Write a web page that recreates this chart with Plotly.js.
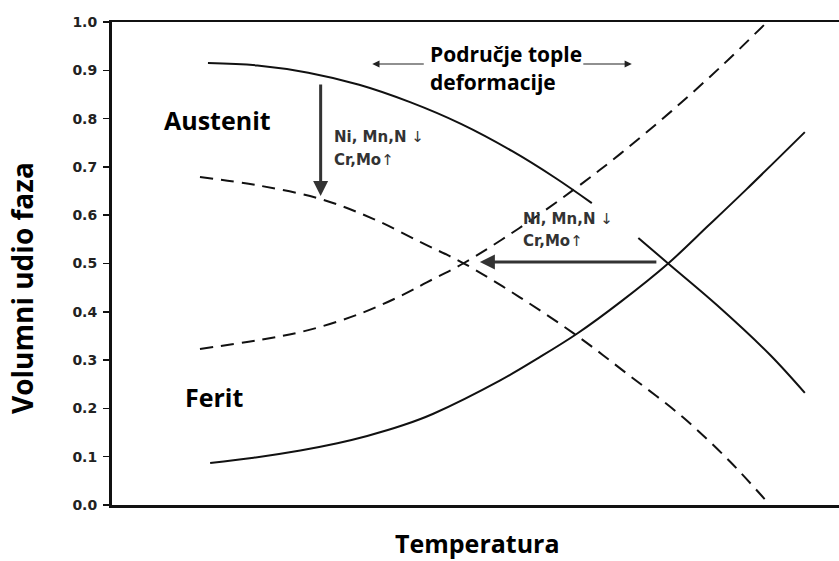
<!DOCTYPE html>
<html>
<head>
<meta charset="utf-8">
<script src="https://cdn.plot.ly/plotly-3.0.1.min.js"></script>
<style>html,body{margin:0;padding:0;background:#fff;}#chart{width:839px;height:561px;}</style>
</head>
<body>
<div id="chart"></div>
<script>
// Temperature (arbitrary units 0-100) and phase fraction values
const austenitX = [13.2, 20, 27, 34, 41, 48, 55, 61, 66];
const austenitY = [0.915, 0.910, 0.895, 0.870, 0.834, 0.789, 0.733, 0.677, 0.625];

const austenitShiftX = [12.1, 20, 28.6, 36, 43, 48.3, 56.1, 64, 71, 78.5, 85, 90.5];
const austenitShiftY = [0.679, 0.662, 0.634, 0.592, 0.540, 0.501, 0.430, 0.350, 0.270, 0.182, 0.090, 0.0];

const feritShiftX = [12.1, 20.4, 27, 34.1, 40, 43.3, 48.3, 56, 63.7, 70, 77, 84, 90.1];
const feritShiftY = [0.323, 0.342, 0.362, 0.396, 0.435, 0.461, 0.500, 0.573, 0.655, 0.728, 0.816, 0.911, 1.0];

const feritX = [13.5, 19.5, 25.9, 31, 35.1, 40, 44.2, 53.4, 58.5, 64, 70, 76.5, 82, 87.3, 95.3];
const feritY = [0.087, 0.098, 0.113, 0.128, 0.143, 0.165, 0.189, 0.258, 0.303, 0.355, 0.421, 0.500, 0.578, 0.654, 0.772];

const austenitHighX = [72.4, 76.5, 83.2, 90.5, 95.3];
const austenitHighY = [0.553, 0.500, 0.414, 0.311, 0.232];

const yTicks = [0.0, 0.1, 0.2, 0.3, 0.4, 0.5, 0.6, 0.7, 0.8, 0.9, 1.0];

const solid = {color: '#111', width: 2, shape: 'spline', smoothing: 1};
const dashed = {color: '#111', width: 2, shape: 'spline', smoothing: 1, dash: '13px,8px'};

const traces = [
  {x: austenitX, y: austenitY, mode: 'lines', line: solid},
  {x: austenitShiftX, y: austenitShiftY, mode: 'lines', line: dashed},
  {x: feritShiftX, y: feritShiftY, mode: 'lines', line: dashed},
  {x: feritX, y: feritY, mode: 'lines', line: solid},
  {x: austenitHighX, y: austenitHighY, mode: 'lines', line: solid}
];

const bigFont = {family: 'Open Sans, sans-serif', size: 25, color: '#000'};
const midFont = {family: 'Open Sans, sans-serif', size: 21, color: '#000'};
const smallFont = {family: 'DejaVu Sans, sans-serif', size: 15, color: '#333'};

const annotations = [
  {x: 6.9, y: 0.797, xref: 'x', yref: 'y', text: '<b>Austenit</b>', showarrow: false, xanchor: 'left', yanchor: 'middle', font: bigFont},
  {x: 9.8, y: 0.224, xref: 'x', yref: 'y', text: '<b>Ferit</b>', showarrow: false, xanchor: 'left', yanchor: 'middle', font: bigFont},
  {x: 43.5, y: 0.933, xref: 'x', yref: 'y', text: '<b>Područje tople</b>', showarrow: false, xanchor: 'left', yanchor: 'middle', font: midFont},
  {x: 43.5, y: 0.875, xref: 'x', yref: 'y', text: '<b>deformacije</b>', showarrow: false, xanchor: 'left', yanchor: 'middle', font: midFont},
  {x: 30.2, y: 0.761, xref: 'x', yref: 'y', text: '<b>Ni, Mn,N</b> ↓', showarrow: false, xanchor: 'left', yanchor: 'middle', font: smallFont},
  {x: 30.2, y: 0.714, xref: 'x', yref: 'y', text: '<b>Cr,Mo</b>↑', showarrow: false, xanchor: 'left', yanchor: 'middle', font: smallFont},
  {x: 56.3, y: 0.592, xref: 'x', yref: 'y', text: '<b>Ni, Mn,N</b> ↓', showarrow: false, xanchor: 'left', yanchor: 'middle', font: smallFont},
  {x: 56.3, y: 0.546, xref: 'x', yref: 'y', text: '<b>Cr,Mo</b>↑', showarrow: false, xanchor: 'left', yanchor: 'middle', font: smallFont},
  // arrows
  {x: 28.7, y: 0.640, xref: 'x', yref: 'y', ax: 0, ay: -113, text: '', showarrow: true, arrowhead: 2, arrowsize: 1, arrowwidth: 3, arrowcolor: '#333'},
  {x: 50.6, y: 0.503, xref: 'x', yref: 'y', ax: 178, ay: 0, text: '', showarrow: true, arrowhead: 2, arrowsize: 1, arrowwidth: 3, arrowcolor: '#333'},
  {x: 35.8, y: 0.913, xref: 'x', yref: 'y', ax: 53, ay: 0, text: '', showarrow: true, arrowhead: 2, arrowsize: 1.2, arrowwidth: 1.2, arrowcolor: '#222'},
  {x: 71.5, y: 0.913, xref: 'x', yref: 'y', ax: -50, ay: 0, text: '', showarrow: true, arrowhead: 2, arrowsize: 1.2, arrowwidth: 1.2, arrowcolor: '#222'},
  // axis titles
  {x: -0.124, y: 0.449, xref: 'paper', yref: 'paper', text: '<b>Volumni udio faza</b>', textangle: -90, showarrow: false, xanchor: 'center', yanchor: 'middle',
   font: {family: 'Open Sans, sans-serif', size: 28, color: '#000'}},
  {x: 0.503, y: -0.078, xref: 'paper', yref: 'paper', text: '<b>Temperatura</b>', showarrow: false, xanchor: 'center', yanchor: 'middle',
   font: {family: 'Open Sans, sans-serif', size: 25, color: '#000'}}
];

const layout = {
  width: 839, height: 561,
  margin: {l: 112, r: 0, t: 22, b: 56},
  paper_bgcolor: '#fff', plot_bgcolor: '#fff',
  showlegend: false,
  xaxis: {range: [0, 100], showgrid: false, zeroline: false, showticklabels: false, ticks: '',
          showline: true, linecolor: '#111', linewidth: 2.5, mirror: true, fixedrange: true},
  yaxis: {range: [0, 1], showgrid: false, zeroline: false, tickvals: yTicks,
          ticktext: yTicks.map(v => '<b>' + v.toFixed(1) + '</b>'),
          ticks: 'outside', ticklen: 6, tickwidth: 1.5, tickcolor: '#111', ticklabelstandoff: 3,
          tickfont: {family: 'DejaVu Sans, sans-serif', size: 14, color: '#222'},
          showline: true, linecolor: '#111', linewidth: 3, fixedrange: true},
  annotations: annotations
};

Plotly.newPlot('chart', traces, layout, {displayModeBar: false, staticPlot: true});
</script>
</body>
</html>
